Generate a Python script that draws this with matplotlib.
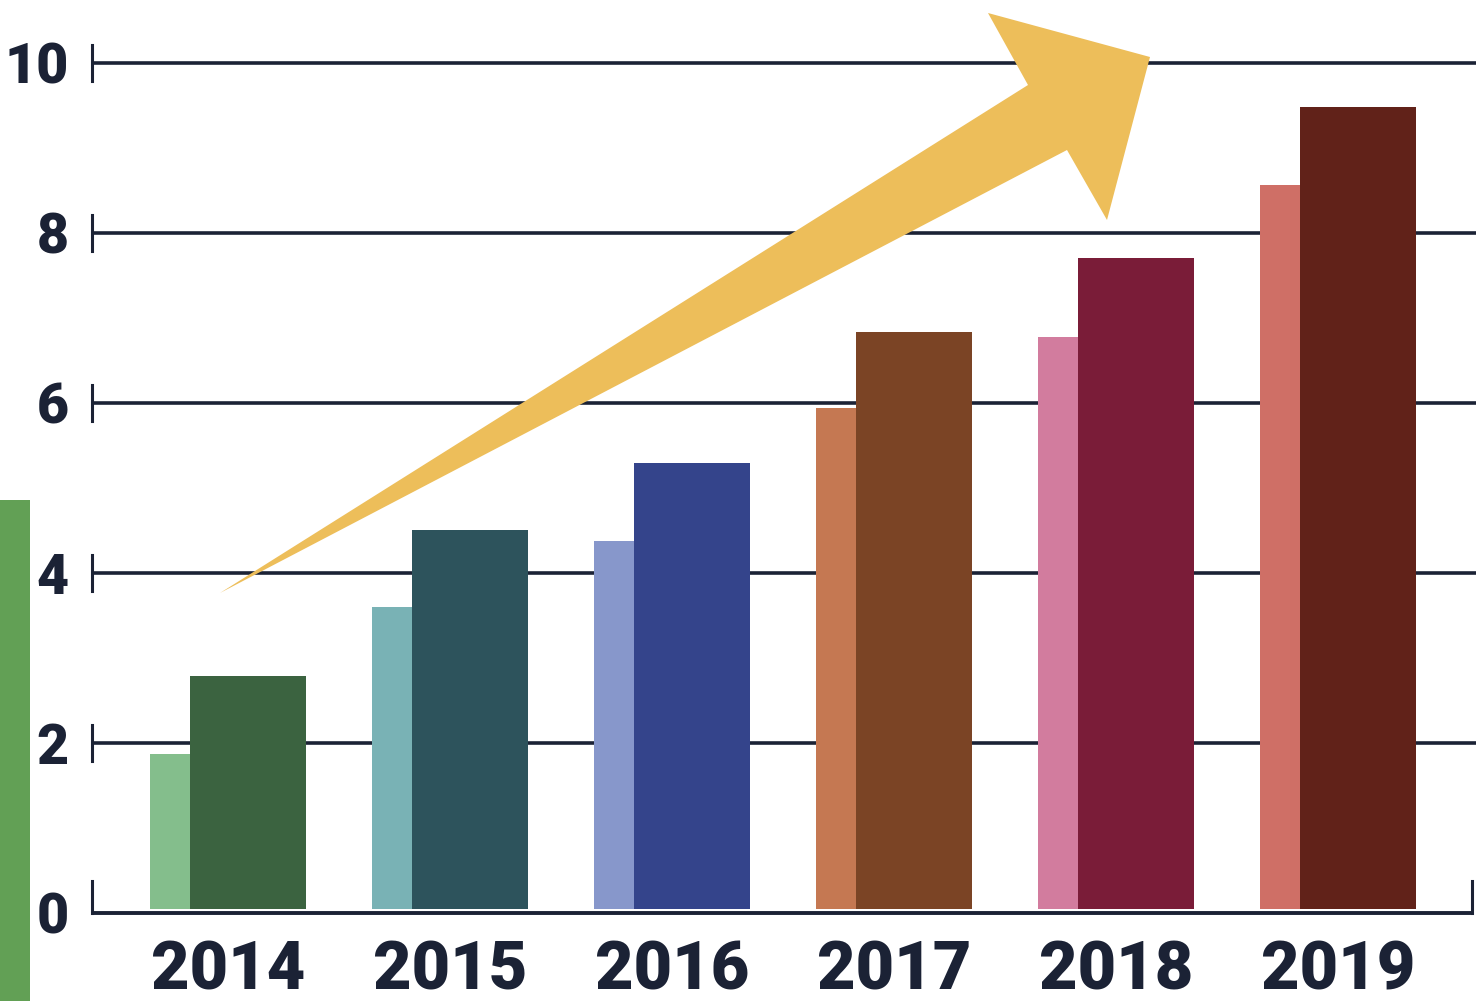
import matplotlib.pyplot as plt
import numpy as np
from matplotlib.patches import Polygon, Rectangle

# Data
years = ['2014', '2015', '2016', '2017', '2018', '2019']
back_values = [1.87, 3.60, 4.38, 5.94, 6.78, 8.56]
front_values = [2.79, 4.51, 5.29, 6.84, 7.71, 9.48]
back_colors = ['#84BE8C', '#79B2B5', '#8797CB', '#C57852', '#D27C9E', '#CF6F66']
front_colors = ['#3B6340', '#2D535C', '#34448B', '#7B4425', '#7A1C38', '#612219']
y_ticks = [0, 2, 4, 6, 8, 10]

navy = '#1B2235'
W, H = 1476, 1001

fig = plt.figure(figsize=(W / 100, H / 100), dpi=100)
fig.patch.set_facecolor('white')

# axes placed in pixels: left 92, zero line at y=913, top at figure top
ax = fig.add_axes([92 / W, (H - 913) / H, (W - 92) / W, 913 / H])
ax.set_facecolor('none')

x = np.arange(len(years))
ax.set_xlim(-0.703, 5.532)
ax.set_ylim(0, 913 / 85.0)

# grid lines and the zero axis
for t in y_ticks:
    if t == 0:
        ax.plot([-0.703, 5.515], [0, 0], color=navy, lw=2.8, zorder=1,
                clip_on=False, solid_capstyle='butt')
        ax.plot([-0.703, -0.703], [0, 0.38], color=navy, lw=2.2, zorder=1, clip_on=False)
        ax.plot([5.515, 5.515], [0, 0.38], color=navy, lw=2.2, zorder=1, clip_on=False)
    else:
        ax.axhline(t, color=navy, lw=2.6, zorder=1)
        ax.plot([-0.703, -0.703], [t - 0.21, t + 0.21], color=navy, lw=2.2,
                zorder=1, clip_on=False)

# bars: lighter one sits behind, shifted left; they stop just above the axis line
width = 0.5225
base = 0.05
ax.bar(x - 0.18, np.array(back_values) - base, bottom=base, width=width,
       color=back_colors, zorder=2)
ax.bar(x, np.array(front_values) - base, bottom=base, width=width,
       color=front_colors, zorder=3)

# ticks
ax.set_yticks(y_ticks)
ax.set_yticklabels([str(t) for t in y_ticks])
ax.set_xticks(x - 0.09)
ax.set_xticklabels(years)
ax.tick_params(axis='y', length=0, pad=17, labelsize=40, labelcolor=navy)
ax.tick_params(axis='x', length=0, pad=19, labelsize=48, labelcolor=navy)
for lab in ax.get_yticklabels() + ax.get_xticklabels():
    lab.set_fontfamily(['Roboto', 'DejaVu Sans'])
    lab.set_fontweight('heavy')
for s in ax.spines.values():
    s.set_visible(False)

# yellow trend arrow (pixel outline converted to figure fraction)
arrow_px = [(220, 593), (1028, 85), (988, 13), (1150, 57), (1107, 220), (1067, 150)]
arrow_fig = [(px / W, 1 - py / H) for px, py in arrow_px]
fig.patches.append(Polygon(arrow_fig, closed=True, transform=fig.transFigure,
                           facecolor='#EDBE5A', edgecolor='none', zorder=5))

# green strip on the left edge
fig.patches.append(Rectangle((0, 0), 30 / W, (H - 500) / H, transform=fig.transFigure,
                             facecolor='#62A055', edgecolor='none', zorder=5))

fig.savefig('out.png', dpi=100)
